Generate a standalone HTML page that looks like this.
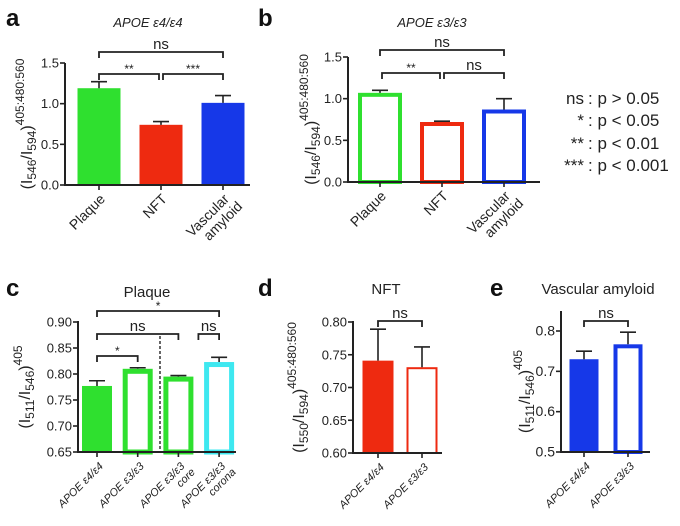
<!DOCTYPE html>
<html><head><meta charset="utf-8">
<style>
html,body{margin:0;padding:0;background:#fff;}
svg{display:block;font-family:"Liberation Sans",Arial,sans-serif;}
</style></head>
<body>
<svg id="fig" width="680" height="526" viewBox="0 0 680 526" xmlns="http://www.w3.org/2000/svg">
<g font-weight="bold" font-size="24" fill="#111">
<text x="6" y="26">a</text>
<text x="258" y="26">b</text>
<text x="6" y="296">c</text>
<text x="258" y="296">d</text>
<text x="490" y="296">e</text>
</g>
<g font-size="13" font-style="italic" fill="#222">
<text x="148" y="27" text-anchor="middle">APOE ε4/ε4</text>
<text x="432" y="27" text-anchor="middle">APOE ε3/ε3</text>
</g>
<g font-size="15" fill="#222">
<text x="147" y="297" text-anchor="middle">Plaque</text>
<text x="386" y="294" text-anchor="middle">NFT</text>
<text x="598" y="294" text-anchor="middle">Vascular amyloid</text>
</g>
<g font-size="17" fill="#222">
<text x="584" y="104" text-anchor="end">ns</text><text x="588" y="104">:  p &gt; 0.05</text>
<text x="584" y="126" text-anchor="end">*</text><text x="588" y="126">:  p &lt; 0.05</text>
<text x="584" y="149" text-anchor="end">**</text><text x="588" y="149">:  p &lt; 0.01</text>
<text x="584" y="171" text-anchor="end">***</text><text x="588" y="171">:  p &lt; 0.001</text>
</g>
</svg>
<script>
// Panel a
const aCats=[["Plaque"],["NFT"],["Vascular","amyloid"]];
const aVals=[1.19,0.74,1.01];
const aErr=[1.27,0.78,1.10];
const aTicks=[0,0.5,1.0,1.5];
const aTickLabels=["0.0","0.5","1.0","1.5"];
// Panel b
const bCats=[["Plaque"],["NFT"],["Vascular","amyloid"]];
const bVals=[1.07,0.72,0.87];
const bErr=[1.10,0.73,1.00];
// Panel c
const cCats=[["APOE ε4/ε4"],["APOE ε3/ε3"],["APOE ε3/ε3","core"],["APOE ε3/ε3","corona"]];
const cVals=[0.777,0.810,0.795,0.823];
const cErr=[0.787,0.812,0.797,0.832];
const cTicks=[0.65,0.70,0.75,0.80,0.85,0.90];
const cTickLabels=["0.65","0.70","0.75","0.80","0.85","0.90"];
// Panel d
const dCats=[["APOE ε4/ε4"],["APOE ε3/ε3"]];
const dVals=[0.741,0.731];
const dErr=[0.789,0.762];
const dTicks=[0.60,0.65,0.70,0.75,0.80];
const dTickLabels=["0.60","0.65","0.70","0.75","0.80"];
// Panel e
const eCats=[["APOE ε4/ε4"],["APOE ε3/ε3"]];
const eVals=[0.73,0.767];
const eErr=[0.75,0.797];
const eTicks=[0.5,0.6,0.7,0.8];
const eTickLabels=["0.5","0.6","0.7","0.8"];

const NS="http://www.w3.org/2000/svg";
const svg=document.getElementById('fig');
function el(tag,attrs,parent){const e=document.createElementNS(NS,tag);for(const k in attrs)e.setAttribute(k,attrs[k]);(parent||svg).appendChild(e);return e;}

function panel(p){
  const g=el('g',{});
  
  
  const y=v=>p.y0-(v-p.vmin)/(p.vmax-p.vmin)*(p.y0-p.y1);
  const n=p.vals.length;
  const bw=p.bw;
  const cx=i=>p.xs+i*p.step;
  for(let i=0;i<n;i++){
    const st=p.styles[i];
    const top=y(p.vals[i]);
    const sw=st.fill?0:st.sw;
    const r=el('rect',{x:cx(i)-bw/2+sw/2,y:top+sw/2,width:bw-sw,height:p.y0-top-sw/2,fill:st.fill?st.color:'#fff',stroke:st.color,'stroke-width':st.fill?0:sw},g);
    
    
    const ey=y(p.err[i]);
    const eb=el('path',{d:`M${cx(i)},${top} V${ey} M${cx(i)-8},${ey} H${cx(i)+8}`,stroke:'#222','stroke-width':1.6,fill:'none'},g);
    
    
  }
  const ax=el('path',{d:`M${p.ax},${p.axTop} V${p.y0} H${p.xEnd}`,stroke:'#222','stroke-width':2,fill:'none'},g);
  
  
  for(let i=0;i<p.ticks.length;i++){
    const ty=y(p.ticks[i]);
    el('line',{x1:p.ax-5,x2:p.ax,y1:ty,y2:ty,stroke:'#222','stroke-width':1.6},g);
    const t=el('text',{x:p.ax-6,y:ty+4.5,'text-anchor':'end','font-size':p.tfs,fill:'#222'},g);
    t.textContent=p.tickLabels[i];
    
    
  }
  for(let i=0;i<n;i++){
    el('line',{x1:cx(i),x2:cx(i),y1:p.y0,y2:p.y0+5,stroke:'#222','stroke-width':1.6},g);
    const lx=cx(i)+4, ly=p.y0+12;
    const t=el('text',{transform:`translate(${lx},${ly}) rotate(-45)`,'text-anchor':'end','font-size':p.cfs,'font-style':p.italic?'italic':'normal',fill:'#222'},g);
    
    
    p.cats[i].forEach((s,j)=>{const ts=el('tspan',{x:j?p.cfs*0.3:0,y:j*p.cfs*1.05+4},t);ts.textContent=s;});
  }
  const yl=el('text',{transform:`translate(${p.ylx},${(p.y0+p.y1)/2}) rotate(-90)`,'text-anchor':'middle','font-size':16,fill:'#222'},g);
  
  
  yl.innerHTML=`(I<tspan font-size="12" dy="4">${p.s1}</tspan><tspan dy="-4">/I</tspan><tspan font-size="12" dy="4">${p.s2}</tspan><tspan dy="-4">)</tspan><tspan font-size="12" dy="-8">${p.sup}</tspan>`;
  (p.brackets||[]).forEach(b=>{
    const bx1=cx(b[0])+(b[3]||0), bx2=cx(b[1])+(b[4]||0);
    const by=b[2];
    el('path',{d:`M${bx1},${by+6} V${by} H${bx2} V${by+6}`,stroke:'#222','stroke-width':1.8,fill:'none'},g);
    const t=el('text',{x:(bx1+bx2)/2,y:b[5]==='ns'?by-3:by-1,'text-anchor':'middle','font-size':b[5]==='ns'?15:12,fill:'#222'},g);
    t.textContent=b[5];
    
    
  });
  return {g,y,cx};
}

const G='#2fe02f',R='#ee2a10',B='#1638e8',C='#3ee8f0';
panel({name:'panel-a',vals:aVals,err:aErr,cats:aCats,ticks:aTicks,tickLabels:aTickLabels,vmin:0,vmax:1.5,y0:185,y1:63,axTop:63,ax:65,xEnd:250,xs:99,step:62,bw:43,tfs:13,cfs:14,ylx:32,s1:'546',s2:'594',sup:'405:480:560',
  styles:[{fill:1,color:G},{fill:1,color:R},{fill:1,color:B}],
  brackets:[[0,2,52,0,0,'ns'],[0,1,74,0,-2,'**'],[1,2,74,2,0,'***']]});
panel({name:'panel-b',vals:bVals,err:bErr,cats:bCats,ticks:aTicks,tickLabels:aTickLabels,vmin:0,vmax:1.5,y0:182,y1:57,axTop:57,ax:348,xEnd:540,xs:380,step:62,bw:44,tfs:13,cfs:14,ylx:316,s1:'546',s2:'594',sup:'405:480:560',
  styles:[{fill:0,color:G,sw:4},{fill:0,color:R,sw:4},{fill:0,color:B,sw:4}],
  brackets:[[0,2,50,0,0,'ns'],[0,1,73,2,-2,'**'],[1,2,73,2,0,'ns']]});
panel({name:'panel-c',vals:cVals,err:cErr,cats:cCats,ticks:cTicks,tickLabels:cTickLabels,vmin:0.65,vmax:0.90,y0:452,y1:322,axTop:321,ax:78,xEnd:236,xs:97,step:40.7,bw:30,tfs:13,cfs:11,italic:1,ylx:30,s1:'511',s2:'546',sup:'405',
  styles:[{fill:1,color:G},{fill:0,color:G,sw:5},{fill:0,color:G,sw:5},{fill:0,color:C,sw:5}],
  brackets:[[0,3,311,0,0,'*'],[0,2,334,0,0,'ns'],[2,3,334,20,0,'ns'],[0,1,356,0,0,'*']]});
el('line',{x1:160,x2:160,y1:336,y2:450,stroke:'#666','stroke-width':2,'stroke-dasharray':'3,2'});
panel({name:'panel-d',vals:dVals,err:dErr,cats:dCats,ticks:dTicks,tickLabels:dTickLabels,vmin:0.60,vmax:0.80,y0:453,y1:322,axTop:321,ax:353,xEnd:442,xs:378,step:44,bw:31,tfs:13,cfs:11,italic:1,ylx:304,s1:'550',s2:'594',sup:'405:480:560',
  styles:[{fill:1,color:R},{fill:0,color:R,sw:2}],
  brackets:[[0,1,321,0,0,'ns']]});
panel({name:'panel-e',vals:eVals,err:eErr,cats:eCats,ticks:eTicks,tickLabels:eTickLabels,vmin:0.5,vmax:0.8,y0:452,y1:331,axTop:311,ax:561,xEnd:650,xs:584,step:44,bw:29,tfs:14,cfs:11,italic:1,ylx:530,s1:'511',s2:'546',sup:'405',
  styles:[{fill:1,color:B},{fill:0,color:B,sw:4}],
  brackets:[[0,1,321,0,0,'ns']]});
</script>
</body></html>
